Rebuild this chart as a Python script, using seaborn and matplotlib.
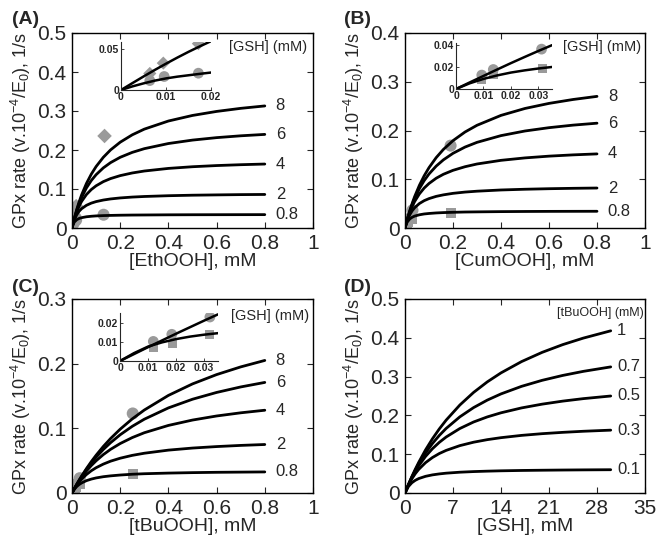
import seaborn as sns
import pandas as pd
import matplotlib.pyplot as plt

# peroxide concentration grid for panels A-C (mM)
x_rooh = [0, 0.005, 0.01, 0.02, 0.03, 0.04, 0.06, 0.08, 0.1, 0.13, 0.16,
          0.2, 0.25, 0.3, 0.4, 0.5, 0.6, 0.7, 0.8]
gsh_labels = ['8', '6', '4', '2', '0.8']

# (A) EthOOH
a_8 = [0, 0.0134, 0.0258, 0.0482, 0.0678, 0.0851, 0.1143, 0.1380, 0.1576, 0.1813,
       0.2002, 0.2200, 0.2389, 0.2535, 0.2743, 0.2886, 0.2989, 0.3068, 0.3130]
a_6 = [0, 0.0132, 0.0252, 0.0460, 0.0636, 0.0786, 0.1029, 0.1217, 0.1367, 0.1542,
       0.1676, 0.1813, 0.1939, 0.2034, 0.2166, 0.2254, 0.2317, 0.2364, 0.2400]
a_4 = [0, 0.0129, 0.0240, 0.0423, 0.0567, 0.0683, 0.0859, 0.0986, 0.1082, 0.1189,
       0.1267, 0.1343, 0.1411, 0.1461, 0.1528, 0.1571, 0.1601, 0.1623, 0.1640]
a_2 = [0, 0.0120, 0.0212, 0.0343, 0.0432, 0.0496, 0.0582, 0.0638, 0.0677, 0.0717,
       0.0745, 0.0771, 0.0793, 0.0808, 0.0828, 0.0841, 0.0849, 0.0856, 0.0860]
a_08 = [0, 0.0099, 0.0155, 0.0214, 0.0246, 0.0265, 0.0288, 0.0301, 0.0310, 0.0318,
        0.0323, 0.0328, 0.0332, 0.0334, 0.0338, 0.0340, 0.0341, 0.0342, 0.0343]

# (B) CumOOH
b_8 = [0, 0.0097, 0.0188, 0.0356, 0.0506, 0.0642, 0.0876, 0.1072, 0.1238, 0.1444,
       0.1612, 0.1792, 0.1969, 0.2107, 0.2310, 0.2452, 0.2556, 0.2636, 0.2700]
b_6 = [0, 0.0096, 0.0185, 0.0345, 0.0483, 0.0605, 0.0809, 0.0973, 0.1108, 0.1270,
       0.1398, 0.1532, 0.1660, 0.1757, 0.1895, 0.1990, 0.2058, 0.2110, 0.2150]
b_4 = [0, 0.0094, 0.0179, 0.0323, 0.0442, 0.0542, 0.0700, 0.0820, 0.0913, 0.1021,
       0.1102, 0.1183, 0.1257, 0.1313, 0.1388, 0.1438, 0.1474, 0.1500, 0.1520]
b_2 = [0, 0.0090, 0.0162, 0.0273, 0.0354, 0.0415, 0.0502, 0.0561, 0.0603, 0.0649,
       0.0680, 0.0711, 0.0737, 0.0755, 0.0780, 0.0795, 0.0806, 0.0814, 0.0820]
b_08 = [0, 0.0078, 0.0127, 0.0187, 0.0221, 0.0244, 0.0271, 0.0288, 0.0298, 0.0309,
        0.0316, 0.0322, 0.0328, 0.0331, 0.0336, 0.0339, 0.0341, 0.0342, 0.0343]

# (C) tBuOOH
c_8 = [0, 0.0035, 0.0070, 0.0137, 0.0201, 0.0262, 0.0378, 0.0485, 0.0584, 0.0720,
       0.0842, 0.0987, 0.1146, 0.1283, 0.1509, 0.1687, 0.1831, 0.1950, 0.2050]
c_6 = [0, 0.0035, 0.0069, 0.0135, 0.0197, 0.0256, 0.0365, 0.0463, 0.0553, 0.0673,
       0.0778, 0.0901, 0.1031, 0.1141, 0.1316, 0.1450, 0.1555, 0.1640, 0.1710]
c_4 = [0, 0.0035, 0.0068, 0.0131, 0.0190, 0.0243, 0.0340, 0.0424, 0.0498, 0.0594,
       0.0675, 0.0765, 0.0857, 0.0932, 0.1045, 0.1128, 0.1191, 0.1240, 0.1280]
c_2 = [0, 0.0034, 0.0066, 0.0123, 0.0172, 0.0215, 0.0286, 0.0344, 0.0391, 0.0447,
       0.0492, 0.0538, 0.0582, 0.0615, 0.0663, 0.0695, 0.0718, 0.0736, 0.0750]
c_08 = [0, 0.0032, 0.0059, 0.0101, 0.0132, 0.0156, 0.0191, 0.0215, 0.0233, 0.0252,
        0.0265, 0.0278, 0.0290, 0.0298, 0.0308, 0.0315, 0.0320, 0.0323, 0.0326]

# (D) GSH dependence at fixed tBuOOH
x_gsh = [0, 0.5, 1, 1.5, 2, 3, 4, 5, 6, 8, 10, 12, 14, 17, 20, 23, 26, 30]
tbu_labels = ['1', '0.7', '0.5', '0.3', '0.1']
d_1 = [0, 0.0219, 0.0423, 0.0613, 0.0790, 0.1112, 0.1397, 0.1651, 0.1878, 0.2268,
       0.2592, 0.2864, 0.3096, 0.3387, 0.3625, 0.3824, 0.3992, 0.4180]
d_07 = [0, 0.0216, 0.0411, 0.0588, 0.0749, 0.1033, 0.1275, 0.1483, 0.1664, 0.1963,
        0.2201, 0.2394, 0.2554, 0.2749, 0.2904, 0.3030, 0.3135, 0.3250]
d_05 = [0, 0.0212, 0.0396, 0.0558, 0.0701, 0.0944, 0.1141, 0.1305, 0.1443, 0.1662,
        0.1830, 0.1961, 0.2067, 0.2193, 0.2290, 0.2368, 0.2432, 0.2500]
d_03 = [0, 0.0202, 0.0365, 0.0498, 0.0609, 0.0783, 0.0914, 0.1017, 0.1098, 0.1221,
        0.1309, 0.1375, 0.1426, 0.1485, 0.1529, 0.1563, 0.1591, 0.1620]
d_01 = [0, 0.0167, 0.0264, 0.0327, 0.0372, 0.0430, 0.0467, 0.0492, 0.0511, 0.0536,
        0.0552, 0.0563, 0.0572, 0.0581, 0.0587, 0.0592, 0.0596, 0.0600]

# inset curves
xin_a = [0, 0.0025, 0.005, 0.0075, 0.01, 0.0125, 0.015, 0.0175, 0.02]
ina_hi = [0, 0.0082, 0.0163, 0.0242, 0.0318, 0.0391, 0.0461, 0.0527, 0.0590]
ina_lo = [0, 0.0043, 0.0080, 0.0113, 0.0140, 0.0161, 0.0178, 0.0195, 0.0211]
xin_bc = [0, 0.005, 0.01, 0.015, 0.02, 0.025, 0.03, 0.035]
inb_hi = [0, 0.0060, 0.0119, 0.0178, 0.0236, 0.0292, 0.0347, 0.0400]
inb_lo = [0, 0.0052, 0.0092, 0.0124, 0.0150, 0.0170, 0.0187, 0.0201]
inc_hi = [0, 0.0036, 0.0072, 0.0107, 0.0142, 0.0176, 0.0210, 0.0243]
inc_lo = [0, 0.0041, 0.0075, 0.0097, 0.0114, 0.0127, 0.0137, 0.0145]

# experimental points
a_dia_x = [0.0064, 0.0094, 0.0172, 0.135]
a_dia_y = [0.020, 0.0325, 0.056, 0.236]
a_cir_x = [0.0064, 0.0096, 0.0172, 0.131]
a_cir_y = [0.0114, 0.0163, 0.0203, 0.034]
b_cir_x = [0.0094, 0.0136, 0.0312, 0.19]
b_cir_y = [0.0127, 0.0178, 0.0364, 0.169]
b_sq_x = [0.0094, 0.0138, 0.0316, 0.19]
b_sq_y = [0.0083, 0.0127, 0.0187, 0.031]
c_cir_x = [0.0119, 0.0185, 0.0321, 0.252]
c_cir_y = [0.0102, 0.0139, 0.0229, 0.123]
c_sq_x = [0.0119, 0.0187, 0.0320, 0.252]
c_sq_y = [0.0068, 0.0088, 0.0139, 0.029]

sns.set_style('ticks')
plt.rcParams['font.family'] = ['Liberation Sans', 'DejaVu Sans']
plt.rcParams['mathtext.default'] = 'regular'

GRAY = '#9a9a9a'
W, H = 664, 538
fig = plt.figure(figsize=(W / 100, H / 100), dpi=100)


def px_axes(x0, x1, y0, y1):
    return fig.add_axes([x0 / W, 1 - y1 / H, (x1 - x0) / W, (y1 - y0) / H])


def style_main(ax, xlim, ylim, xticks, yticks, xlabel):
    ax.set_xlim(xlim)
    ax.set_ylim(ylim)
    ax.set_xticks(xticks)
    ax.set_yticks(yticks)
    ax.set_xticklabels([f'{t:g}' for t in xticks])
    ax.set_yticklabels([f'{t:g}' for t in yticks])
    ax.tick_params(direction='in', length=4, width=0.8, labelsize=15,
                   top=True, right=True)
    ax.tick_params(axis='x', pad=4)
    ax.tick_params(axis='y', pad=4)
    for s in ax.spines.values():
        s.set_visible(True)
        s.set_linewidth(1.0)
        s.set_color('black')
    ax.set_xlabel(xlabel, fontsize=14, labelpad=0)
    ax.set_ylabel('GPx rate (v.10$^{-4}$/E$_0$), 1/s', fontsize=13, labelpad=3)


def style_inset(ax, xlim, ylim, xticks, yticks):
    ax.set_xlim(xlim)
    ax.set_ylim(ylim)
    ax.set_xticks(xticks)
    ax.set_yticks(yticks)
    ax.set_xticklabels([f'{t:g}' for t in xticks])
    ax.set_yticklabels([f'{t:g}' for t in yticks])
    ax.tick_params(direction='in', length=2, width=0.6, labelsize=7.5, pad=1.5)
    for lab in ax.get_xticklabels() + ax.get_yticklabels():
        lab.set_fontweight('bold')
    ax.spines['top'].set_visible(False)
    ax.spines['right'].set_visible(False)
    ax.spines['left'].set_linewidth(0.8)
    ax.spines['bottom'].set_linewidth(0.8)
    ax.set_xlabel('')
    ax.set_ylabel('')
    ax.patch.set_alpha(0)


def draw_curves(ax, x, curves, labels, xlab):
    for y, lab in zip(curves, labels):
        sns.lineplot(x=x, y=y, ax=ax, color='black', lw=2.0, zorder=3)
        ax.text(xlab, y[-1], lab, fontsize=12, va='center', ha='left')


def draw_points(ax, xs, ys, marker, s):
    sns.scatterplot(x=xs, y=ys, ax=ax, marker=marker, s=s, color=GRAY,
                    edgecolor='none', zorder=2)


# ---------- (A)
axA = px_axes(72, 313, 33, 228)
draw_points(axA, a_dia_x, a_dia_y, 'D', 55)
draw_points(axA, a_cir_x, a_cir_y, 'o', 75)
draw_curves(axA, x_rooh, [a_8, a_6, a_4, a_2, a_08], gsh_labels, 0.845)
style_main(axA, (0, 1), (0, 0.5), [0, 0.2, 0.4, 0.6, 0.8, 1],
           [0, 0.1, 0.2, 0.3, 0.4, 0.5], '[EthOOH], mM')
axA.text(0.975, 0.93, '[GSH] (mM)', transform=axA.transAxes, ha='right',
         va='center', fontsize=10.5)

inA = px_axes(121, 211, 42, 90)
draw_points(inA, a_dia_x, a_dia_y, 'D', 45)
draw_points(inA, a_cir_x, a_cir_y, 'o', 60)
sns.lineplot(x=xin_a, y=ina_hi, ax=inA, color='black', lw=1.8)
sns.lineplot(x=xin_a, y=ina_lo, ax=inA, color='black', lw=1.8)
style_inset(inA, (0, 0.02), (0, 0.058), [0, 0.01, 0.02], [0, 0.05])

# ---------- (B)
axB = px_axes(405, 645, 33, 228)
draw_points(axB, b_cir_x, b_cir_y, 'o', 75)
draw_points(axB, b_sq_x, b_sq_y, 's', 50)
draw_curves(axB, x_rooh, [b_8, b_6, b_4, b_2, b_08], gsh_labels, 0.845)
style_main(axB, (0, 1), (0, 0.4), [0, 0.2, 0.4, 0.6, 0.8, 1],
           [0, 0.1, 0.2, 0.3, 0.4], '[CumOOH], mM')
axB.text(0.985, 0.93, '[GSH] (mM)', transform=axB.transAxes, ha='right',
         va='center', fontsize=10.5)

inB = px_axes(456, 552, 43, 89)
draw_points(inB, b_cir_x, b_cir_y, 'o', 60)
draw_points(inB, b_sq_x, b_sq_y, 's', 40)
sns.lineplot(x=xin_bc, y=inb_hi, ax=inB, color='black', lw=1.8)
sns.lineplot(x=xin_bc, y=inb_lo, ax=inB, color='black', lw=1.8)
style_inset(inB, (0, 0.035), (0, 0.042), [0, 0.01, 0.02, 0.03], [0, 0.02, 0.04])

# ---------- (C)
axC = px_axes(72, 313, 299, 493)
draw_points(axC, c_cir_x, c_cir_y, 'o', 75)
draw_points(axC, c_sq_x, c_sq_y, 's', 50)
draw_curves(axC, x_rooh, [c_8, c_6, c_4, c_2, c_08], gsh_labels, 0.845)
style_main(axC, (0, 1), (0, 0.3), [0, 0.2, 0.4, 0.6, 0.8, 1],
           [0, 0.1, 0.2, 0.3], '[tBuOOH], mM')
axC.text(0.985, 0.91, '[GSH] (mM)', transform=axC.transAxes, ha='right',
         va='center', fontsize=10.5)

inC = px_axes(120, 218, 313, 361)
draw_points(inC, c_cir_x, c_cir_y, 'o', 60)
draw_points(inC, c_sq_x, c_sq_y, 's', 40)
sns.lineplot(x=xin_bc, y=inc_hi, ax=inC, color='black', lw=1.8)
sns.lineplot(x=xin_bc, y=inc_lo, ax=inC, color='black', lw=1.8)
style_inset(inC, (0, 0.035), (0, 0.025), [0, 0.01, 0.02, 0.03], [0, 0.01, 0.02])

# ---------- (D)
axD = px_axes(405, 645, 299, 493)
draw_curves(axD, x_gsh, [d_1, d_07, d_05, d_03, d_01], tbu_labels, 30.9)
style_main(axD, (0, 35), (0, 0.5), [0, 7, 14, 21, 28, 35],
           [0, 0.1, 0.2, 0.3, 0.4, 0.5], '[GSH], mM')
axD.text(0.995, 0.93, '[tBuOOH] (mM)', transform=axD.transAxes, ha='right',
         va='center', fontsize=9)

for lab, (px, py) in zip(['(A)', '(B)', '(C)', '(D)'],
                         [(12, 20), (344, 20), (12, 288), (344, 288)]):
    fig.text(px / W, 1 - py / H, lab, fontsize=14, fontweight='bold',
             ha='left', va='center')

fig.savefig('out.png', dpi=100)
